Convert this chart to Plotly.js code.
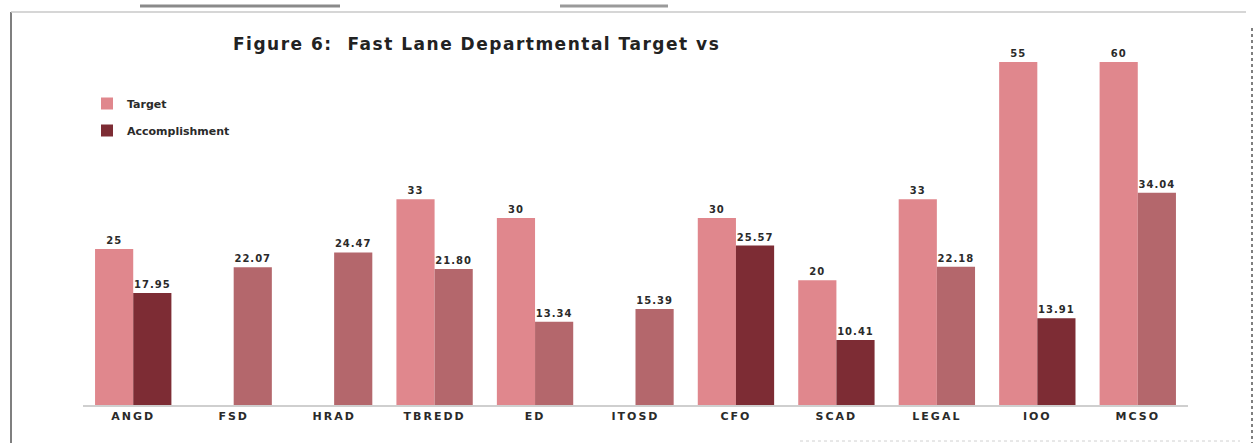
<!DOCTYPE html>
<html>
<head>
<meta charset="utf-8">
<script src="https://cdn.plot.ly/plotly-3.0.1.min.js"></script>
<style>
html,body{margin:0;padding:0;background:#fff;}
#chart{width:1256px;height:443px;}
#chart .gtitle{letter-spacing:1.5px;}
#chart .xtick text{letter-spacing:2px;}
#chart .bartext text, #chart text.bartext{letter-spacing:1px;}
</style>
</head>
<body>
<div id="chart"></div>
<script>
// ---- data ----
var departments = ["ANGD","FSD","HRAD","TBREDD","ED","ITOSD","CFO","SCAD","LEGAL","IOO","MCSO"];
var targetValues = [25, null, null, 33, 30, null, 30, 20, 33, 55, 60];
var accomplishmentValues = [17.95, 22.07, 24.47, 21.80, 13.34, 15.39, 25.57, 10.41, 22.18, 13.91, 34.04];
var accomplishmentShade = ["dark","mid","mid","mid","mid","mid","dark","dark","mid","dark","mid"];
var Y_MAX = 55;

// ---- styles ----
var TARGET_COLOR = "#e0878d";
var SHADES = {dark: "#7d2c34", mid: "#b4676c"};
var W = 1256, H = 443;
var M = {l: 83, r: 68, t: 62, b: 38, autoexpand: false};
var PW = W - M.l - M.r, PH = H - M.t - M.b;
function px(x){ return (x - M.l) / PW; }
function py(y){ return (H - M.b - y) / PH; }

var labelFont = {family: "DejaVu Sans, Arial, sans-serif", size: 10, color: "#2a2a2a", weight: 700};

var targetTrace = {
  type: "bar", name: "Target", x: departments, y: targetValues,
  marker: {color: TARGET_COLOR}, offsetgroup: "t", legendgroup: "t",
  cliponaxis: true, textposition: "none", hoverinfo: "x+y"
};
var targetLabels = {
  type: "bar", x: departments,
  y: targetValues.map(function(v){ return v == null ? null : Math.min(v, Y_MAX); }),
  text: targetValues.map(function(v){ return v == null ? "" : String(v); }),
  textposition: "outside", textfont: labelFont, cliponaxis: false,
  marker: {color: "rgba(0,0,0,0)"}, offsetgroup: "t", showlegend: false, hoverinfo: "skip"
};
var accTrace = {
  type: "bar", name: "Accomplishment", x: departments, y: accomplishmentValues,
  marker: {color: accomplishmentShade.map(function(s){ return SHADES[s]; })},
  text: accomplishmentValues.map(function(v){ return v.toFixed(2); }),
  textposition: "outside", textfont: labelFont, cliponaxis: false,
  offsetgroup: "a", legendgroup: "a"
};

var line = function(x0,y0,x1,y1,color,width,dash){
  return {type:"line", xref:"paper", yref:"paper", x0:px(x0), y0:py(y0), x1:px(x1), y1:py(y1),
          line:{color:color, width:width, dash:dash||"solid"}, layer:"above"};
};

var layout = {
  width: W, height: H,
  margin: M,
  paper_bgcolor: "#ffffff", plot_bgcolor: "#ffffff",
  barmode: "group", bargap: 0.24, bargroupgap: 0,
  title: {
    text: "Figure 6:  Fast Lane Departmental Target vs",
    font: {family: "DejaVu Sans, Arial, sans-serif", size: 17, color: "#222222", weight: 700},
    x: 233 / W, xanchor: "left", xref: "container",
    y: 1 - 44 / H, yanchor: "middle", yref: "container"
  },
  xaxis: {
    type: "category", showgrid: false, zeroline: false,
    showline: true, linecolor: "#cfcfcf", linewidth: 1.5,
    ticks: "", tickfont: {family: "DejaVu Sans, Arial, sans-serif", size: 11, color: "#2a2a2a", weight: 700}
  },
  yaxis: {
    range: [0, Y_MAX], visible: false, showgrid: false, zeroline: false, fixedrange: true
  },
  showlegend: true,
  legend: {
    xref: "paper", yref: "paper", x: px(87), y: py(89), xanchor: "left", yanchor: "top",
    font: {family: "DejaVu Sans, Arial, sans-serif", size: 11, color: "#2a2a2a", weight: 700},
    traceorder: "grouped", tracegroupgap: 8, itemwidth: 30, bgcolor: "rgba(0,0,0,0)"
  },
  shapes: [
    line(11, 12, 11, 443, "#555555", 1.5),
    line(1252, 28, 1252, 443, "#555555", 1.5, "dot"),
    line(11, 12, 1246, 12, "#c8c8c8", 1.5),
    line(140, 6, 340, 6, "#8a8a8a", 3),
    line(560, 6, 668, 6, "#9a9a9a", 3),
    line(800, 441, 1240, 441, "#d0d0d0", 1, "dot")
  ]
};

Plotly.newPlot("chart", [targetTrace, accTrace, targetLabels], layout, {displayModeBar: false, staticPlot: true});
</script>
</body>
</html>
